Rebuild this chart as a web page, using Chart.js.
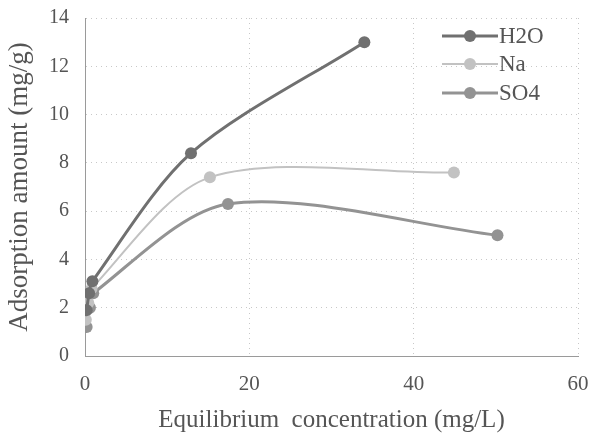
<!DOCTYPE html>
<html>
<head>
<meta charset="utf-8">
<script src="https://cdn.jsdelivr.net/npm/chart.js@4"></script>
<style>
  html, body { margin: 0; padding: 0; background: #fff; }
  #wrap { width: 592px; height: 439px; }
</style>
</head>
<body>
<div id="wrap"><canvas id="chart"></canvas></div>
<script>
// Adsorption isotherms — equilibrium concentration vs adsorbed amount
const seriesNames = ["H2O", "Na", "SO4"];
const h2oX = [0.2, 0.5, 0.9, 12.9, 34.0];
const h2oY = [1.9, 2.6, 3.1, 8.4, 13.0];
const naX = [0.1, 0.4, 0.8, 15.2, 44.9];
const naY = [1.5, 2.2, 2.8, 7.4, 7.6];
const so4X = [0.2, 0.6, 1.0, 17.4, 50.2];
const so4Y = [1.2, 2.0, 2.6, 6.3, 5.0];
const xTicks = [0, 20, 40, 60];
const yTicks = [0, 2, 4, 6, 8, 10, 12, 14];

const colors = ["#707070", "#c2c2c2", "#939393"];
const widths = [3, 2, 3];

const pts = (xs, ys) => xs.map((x, i) => ({ x, y: ys[i] }));
const serif = "'Liberation Serif', 'DejaVu Serif', serif";

// legend drawn inside the plot: line + marker + name
const insideLegend = {
  id: "insideLegend",
  afterDraw(chart) {
    const ctx = chart.ctx;
    const rows = [36, 64, 93];
    ctx.save();
    chart.data.datasets.forEach((ds, i) => {
      const y = rows[i];
      ctx.strokeStyle = ds.borderColor;
      ctx.lineWidth = ds.borderWidth;
      ctx.beginPath();
      ctx.moveTo(442, y);
      ctx.lineTo(498, y);
      ctx.stroke();
      ctx.fillStyle = ds.borderColor;
      ctx.beginPath();
      ctx.arc(470, y, 6, 0, Math.PI * 2);
      ctx.fill();
      ctx.fillStyle = "#555";
      ctx.font = "23px " + serif;
      ctx.textBaseline = "middle";
      ctx.textAlign = "left";
      ctx.fillText(ds.label, 499, y + 1);
    });
    ctx.restore();
  },
};

new Chart(document.getElementById("chart"), {
  type: "line",
  data: {
    datasets: [
      { label: seriesNames[0], data: pts(h2oX, h2oY) },
      { label: seriesNames[1], data: pts(naX, naY) },
      { label: seriesNames[2], data: pts(so4X, so4Y) },
    ].map((d, i) => ({
      ...d,
      borderColor: colors[i],
      backgroundColor: colors[i],
      borderWidth: widths[i],
      pointRadius: 6,
      pointBorderWidth: 0,
      pointBackgroundColor: colors[i],
      tension: 0.3,
      fill: false,
    })),
  },
  plugins: [insideLegend],
  options: {
    responsive: true,
    maintainAspectRatio: false,
    animation: false,
    layout: { padding: 0 },
    plugins: { legend: { display: false }, tooltip: { enabled: false } },
    scales: {
      x: {
        type: "linear",
        min: 0,
        max: 60,
        afterBuildTicks: (s) => { s.ticks = xTicks.map((v) => ({ value: v })); },
        afterFit: (s) => { s.height = 83; s.paddingRight = 14; s.paddingLeft = 0; },
        ticks: { color: "#555", font: { family: serif, size: 21 }, padding: 16 },
        grid: { color: "#c8c8c8", lineWidth: 1, drawTicks: false },
        border: { display: true, color: "#9a9a9a", dash: [1, 4] },
        title: {
          display: true,
          text: "Equilibrium  concentration (mg/L)",
          color: "#555",
          font: { family: serif, size: 25 },
          padding: { top: 2 },
        },
      },
      y: {
        type: "linear",
        min: 0,
        max: 14,
        afterBuildTicks: (s) => { s.ticks = yTicks.map((v) => ({ value: v })); },
        afterFit: (s) => { s.width = 85; s.paddingTop = 18; s.paddingBottom = 0; },
        ticks: { color: "#555", font: { family: serif, size: 20 }, padding: 16 },
        grid: { color: "#c8c8c8", lineWidth: 1, drawTicks: false },
        border: { display: true, color: "#9a9a9a", dash: [1, 4] },
        title: {
          display: true,
          text: "Adsorption amount (mg/g)",
          color: "#555",
          font: { family: serif, size: 27 },
          padding: { bottom: 4 },
        },
      },
    },
  },
});
</script>
</body>
</html>
